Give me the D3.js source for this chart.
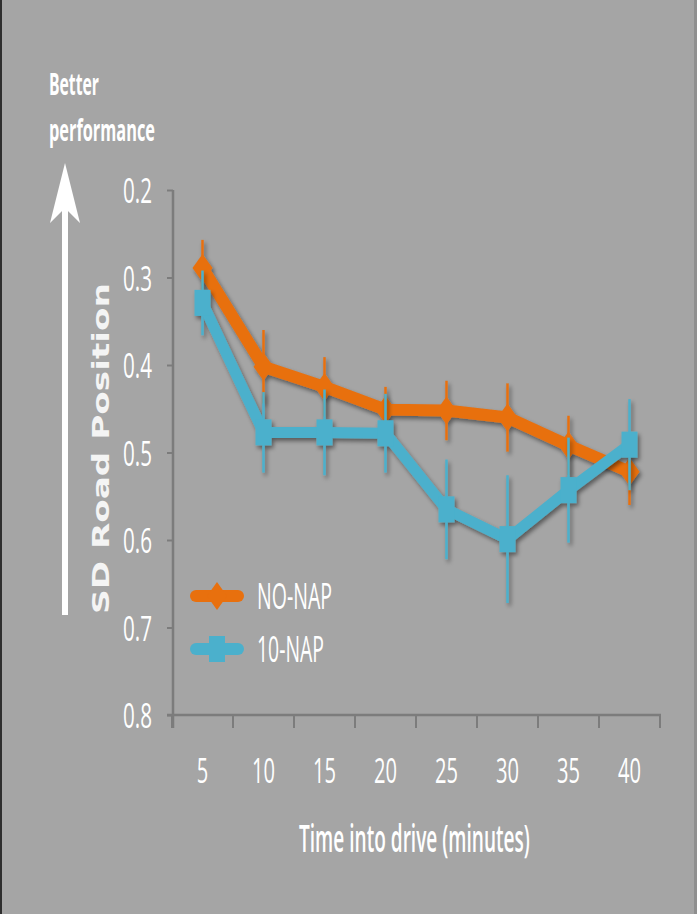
<!DOCTYPE html>
<html>
<head>
<meta charset="utf-8">
<script src="https://cdn.jsdelivr.net/npm/d3@7"></script>
<style>
  html, body { margin: 0; padding: 0; background: #a5a5a5; }
  svg { display: block; }
</style>
</head>
<body>
<script>
// ---- data ----
const categories = ["5", "10", "15", "20", "25", "30", "35", "40"];
const noNap      = [0.289, 0.402, 0.425, 0.451, 0.452, 0.460, 0.492, 0.522];
const noNapErr   = [0.032, 0.042, 0.034, 0.026, 0.034, 0.039, 0.034, 0.038];
const tenNap     = [0.329, 0.477, 0.477, 0.478, 0.565, 0.599, 0.543, 0.491];
const tenNapErr  = [0.037, 0.046, 0.049, 0.045, 0.057, 0.073, 0.060, 0.052];
const yTicks     = [0.2, 0.3, 0.4, 0.5, 0.6, 0.7, 0.8];
const seriesNames = ["NO-NAP", "10-NAP"];
const xTitle = "Time into drive (minutes)";
const yTitle = "SD Road Position";

const W = 697, H = 914;
const ORANGE = "#e8700e", BLUE = "#4bb0cc", AXIS = "#7c7c7c";

const svg = d3.select("body").append("svg").attr("width", W).attr("height", H);
const defs = svg.append("defs");
const f = defs.append("filter").attr("id", "shadow")
  .attr("x", "-20%").attr("y", "-20%").attr("width", "140%").attr("height", "140%");
f.append("feDropShadow").attr("dx", 2).attr("dy", 3).attr("stdDeviation", 2)
  .attr("flood-color", "#000").attr("flood-opacity", 0.45);

svg.append("rect").attr("width", W).attr("height", H).attr("fill", "#a5a5a5");
svg.append("rect").attr("x", 0).attr("y", 0).attr("width", 2).attr("height", H).attr("fill", "#2e2e2e");
svg.append("rect").attr("x", W - 3).attr("y", 0).attr("width", 3).attr("height", H).attr("fill", "#8f8f8f");

const x = d3.scaleBand().domain(categories).range([172, 660]).padding(0);
const y = d3.scaleLinear().domain([0.2, 0.8]).range([190, 715]);

// target widths of compressed digit labels
const charW = c => (c === "." ? 6 : 11.5);
const tlen = s => s.split("").reduce((a, c) => a + charW(c), 0);

// horizontal squeeze factor so the text has the target width
function squeeze(node, target) {
  const w = node.getComputedTextLength();
  return w > 0 ? target / w : 1;
}

// ---- y axis ----
const gy = svg.append("g").attr("transform", "translate(173,0)")
  .call(d3.axisLeft(y).tickValues(yTicks).tickSize(6).tickPadding(21).tickFormat(d3.format(".1f")));
gy.select(".domain").attr("stroke", AXIS).attr("stroke-width", 2.5).attr("d", "M0,190V728");
gy.selectAll(".tick line").attr("stroke", AXIS).attr("stroke-width", 2);
gy.selectAll(".tick text")
  .attr("fill", "#fff").attr("font-family", "Open Sans").attr("font-size", 35)
  .attr("dy", null).attr("y", 12.5)
  .each(function(d) {
    const sx = squeeze(this, tlen(d3.format(".1f")(d)));
    d3.select(this).attr("x", -21 / sx).attr("transform", `scale(${sx},1)`);
  });

// ---- x axis ----
const gx = svg.append("g").attr("transform", "translate(0,715)")
  .call(d3.axisBottom(x).tickSize(0).tickPadding(0));
gx.select(".domain").attr("stroke", AXIS).attr("stroke-width", 2.5).attr("d", "M167,0H661");
gx.selectAll(".tick text")
  .attr("fill", "#fff").attr("font-family", "Open Sans").attr("font-size", 35)
  .attr("dy", null).attr("y", 68).attr("x", 0)
  .each(function(d) {
    const sx = squeeze(this, tlen(d));
    d3.select(this).attr("transform", `scale(${sx},1)`);
  });
// boundary ticks
const bounds = categories.map(c => x(c)).concat([x.range()[1]]);
svg.append("g").selectAll("line").data(bounds).join("line")
  .attr("x1", d => d).attr("x2", d => d).attr("y1", 715).attr("y2", 728)
  .attr("stroke", AXIS).attr("stroke-width", 2);

// ---- series ----
const cx = c => x(c) + x.bandwidth() / 2;
function drawSeries(vals, errs, color, marker, lw) {
  const g = svg.append("g").attr("filter", "url(#shadow)");
  g.selectAll("line.err").data(categories).join("line").attr("class", "err")
    .attr("x1", c => cx(c)).attr("x2", c => cx(c))
    .attr("y1", (c, i) => y(vals[i] - errs[i])).attr("y2", (c, i) => y(vals[i] + errs[i]))
    .attr("stroke", color).attr("stroke-width", 2.5);
  const line = d3.line().x(c => cx(c)).y((c, i) => y(vals[i]));
  g.append("path").attr("d", line(categories)).attr("fill", "none")
    .attr("stroke", color).attr("stroke-width", lw).attr("stroke-linejoin", "round");
  g.selectAll("path.mk").data(categories).join("path").attr("class", "mk")
    .attr("transform", (c, i) => `translate(${cx(c)},${y(vals[i])})`)
    .attr("d", marker).attr("fill", color);
}
const diamond = "M0,-14L10,0L0,14L-10,0Z";
const square = "M-8,-13H8V13H-8Z";
drawSeries(noNap, noNapErr, ORANGE, diamond, 12);
drawSeries(tenNap, tenNapErr, BLUE, square, 11);

// placed, squeezed text helper (start-anchored at left, baseline)
function fitText(parent, str, left, base, width, attrs, rotate) {
  const t = parent.append("text").attr("x", 0).attr("y", 0).text(str);
  Object.entries(attrs).forEach(([k, v]) => t.attr(k, v));
  const sx = squeeze(t.node(), width);
  if (rotate) {
    t.attr("transform", `translate(${left},${base}) rotate(-90) scale(${sx},1)`);
  } else {
    t.attr("transform", `translate(${left},${base}) scale(${sx},1)`);
  }
  return t;
}

// ---- legend ----
const leg = svg.append("g");
const legItems = [
  { name: seriesNames[0], color: ORANGE, marker: diamond, y: 596, len: 75 },
  { name: seriesNames[1], color: BLUE, marker: square, y: 649, len: 67 }
];
const txt = { fill: "#fff", "font-family": "Open Sans", "font-size": 36 };
legItems.forEach(it => {
  leg.append("line").attr("x1", 196).attr("x2", 238).attr("y1", it.y).attr("y2", it.y)
    .attr("stroke", it.color).attr("stroke-width", 12).attr("stroke-linecap", "round");
  leg.append("path").attr("transform", `translate(217,${it.y})`).attr("d", it.marker).attr("fill", it.color);
  fitText(leg, it.name, 257, it.y + 13, it.len, txt);
});

// ---- titles ----
fitText(svg, xTitle, 299, 852, 231,
  { fill: "#fff", "font-family": "Open Sans", "font-weight": 600, "font-size": 37 });

// y title: rotated, reads bottom-to-top, starting at y=614
fitText(svg, yTitle, 109, 614, 331,
  { fill: "#f4f4f4", "font-family": "DejaVu Sans", "font-weight": "bold", "font-size": 23 }, true);

fitText(svg, "Better", 49, 95, 50,
  { fill: "#fff", "font-family": "Open Sans", "font-weight": "bold", "font-size": 30 });
fitText(svg, "performance", 49, 141, 106,
  { fill: "#fff", "font-family": "Open Sans", "font-weight": "bold", "font-size": 30 });

// ---- arrow ----
svg.append("rect").attr("x", 62).attr("y", 200).attr("width", 6).attr("height", 415).attr("fill", "#fff");
svg.append("path").attr("d", "M65,163L80,223L65,208L50,223Z").attr("fill", "#fff");
</script>
</body>
</html>
